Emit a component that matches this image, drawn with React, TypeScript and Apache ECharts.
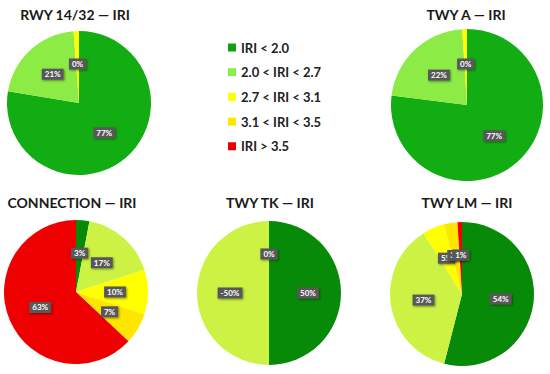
import React, { useEffect, useRef } from "react";
import * as echarts from "echarts";

const CATEGORIES = ["IRI < 2.0", "2.0 < IRI < 2.7", "2.7 < IRI < 3.1", "3.1 < IRI < 3.5", "IRI > 3.5"];
const LEGEND_COLORS = ["#10a010", "#8cee4c", "#ffff00", "#ffe800", "#e80000"];

const TITLES = ["RWY 14/32 — IRI", "TWY A — IRI", "CONNECTION — IRI", "TWY TK — IRI", "TWY LM — IRI"];

// values per category (null = not present); labels as printed on the chart
const RWY_VALUES = [77, 21, 1.2, null, null];
const RWY_LABELS = ["77%", "21%", "0%", "", ""];
const TWYA_VALUES = [77, 22, 1, null, null];
const TWYA_LABELS = ["77%", "22%", "0%", "", ""];
const CONN_VALUES = [3, 17, 10, 7, 63];
const CONN_LABELS = ["3%", "17%", "10%", "7%", "63%"];
const TK_VALUES = [50, 50, 0, null, null];
const TK_LABELS = ["50%", "-50%", "0%", "", ""];
const LM_VALUES = [54, 37, 5, 3, 1];
const LM_LABELS = ["54%", "37%", "5%", "3%", "1%"];

const TOP_COLORS = ["#12ad12", "#8deb45", "#ffff00", "#ffe800", "#e80000"];
const BOTTOM_COLORS = ["#078a07", "#ccf343", "#ffff00", "#ffe600", "#ee0000"];

const PIES = [
  { values: RWY_VALUES, labels: RWY_LABELS, colors: TOP_COLORS, center: [79, 103], r: 72, title: [75, 14] },
  { values: TWYA_VALUES, labels: TWYA_LABELS, colors: TOP_COLORS, center: [467, 105], r: 76, title: [466, 14] },
  { values: CONN_VALUES, labels: CONN_LABELS, colors: BOTTOM_COLORS, center: [76, 292], r: 72, title: [72, 202] },
  { values: TK_VALUES, labels: TK_LABELS, colors: BOTTOM_COLORS, center: [269, 293], r: 72, title: [270, 202] },
  { values: LM_VALUES, labels: LM_LABELS, colors: BOTTOM_COLORS, center: [462, 294], r: 72, title: [467, 202] },
];

const FONT = "Lato, 'Open Sans', sans-serif";

export default function App() {
  const ref = useRef<HTMLDivElement>(null);
  useEffect(() => {
    if (!ref.current) return;
    const chart = echarts.init(ref.current, null, { renderer: "svg" });
    const series = PIES.map((p) => ({
      type: "pie",
      center: p.center,
      radius: p.r,
      startAngle: 90,
      clockwise: true,
      avoidLabelOverlap: false,
      labelLayout: { hideOverlap: false },
      emphasis: { disabled: true },
      label: {
        show: true,
        position: "inside",
        color: "#ffffff",
        fontSize: 8,
        fontWeight: "bold",
        fontFamily: FONT,
        backgroundColor: "#595959",
        padding: [2, 3, 1, 3],
        shadowBlur: 2,
        shadowOffsetX: 1,
        shadowOffsetY: 1,
        shadowColor: "rgba(0,0,0,0.45)",
      },
      labelLine: { show: false },
      itemStyle: { borderWidth: 0 },
      data: CATEGORIES.map((name, i) => ({
        name,
        value: p.values[i],
        itemStyle: { color: p.colors[i] },
        label: { formatter: p.labels[i] },
      })).filter((d) => d.value !== null),
    }));
    chart.setOption({
      animation: false,
      legend: {
        orient: "vertical",
        left: 223,
        top: 36,
        icon: "rect",
        itemWidth: 8,
        itemHeight: 8,
        itemGap: 11.7,
        selectedMode: false,
        textStyle: { fontSize: 13, fontWeight: "bold", color: "#222", fontFamily: FONT, lineHeight: 13 },
        data: CATEGORIES.map((name, i) => ({ name, itemStyle: { color: LEGEND_COLORS[i] } })),
      },
      graphic: PIES.map((p, i) => ({
        type: "text",
        x: p.title[0],
        y: p.title[1],
        style: {
          text: TITLES[i],
          fill: "#1a1a1a",
          font: `bold 14px ${FONT}`,
          textAlign: "center",
          textVerticalAlign: "middle",
        },
      })),
      series,
    });
    return () => chart.dispose();
  }, []);
  return <div ref={ref} style={{ position: "fixed", left: 0, top: 0, width: 550, height: 374, background: "#fff" }} />;
}
